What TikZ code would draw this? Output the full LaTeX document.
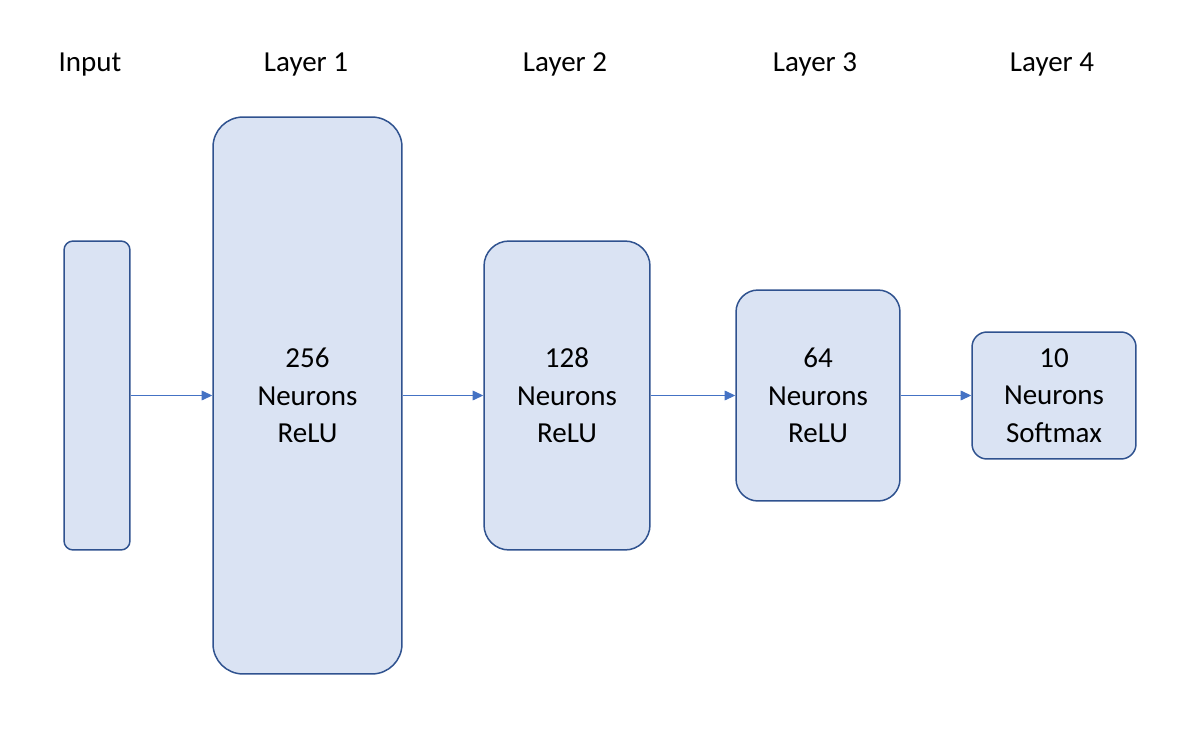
\documentclass[tikz,border=0pt]{standalone}
\usepackage{fontspec}
\setmainfont{Carlito}
\usetikzlibrary{arrows.meta}
\definecolor{layerfill}{HTML}{DAE3F3}
\definecolor{layerline}{HTML}{2F528F}
\definecolor{arrowblue}{HTML}{4472C4}
\begin{document}
\begin{tikzpicture}[x=0.02cm,y=-0.02cm,
  every node/.style={text centered,font=\fontsize{16.5}{21.3}\selectfont},
  layer/.style={draw=layerline,fill=layerfill,line width=0.85pt,align=center,inner sep=0pt},
  flow/.style={draw=arrowblue,line width=0.6pt,-{Triangle[length=6pt,width=5.5pt]}}]

\useasboundingbox (0,0) rectangle (1194,754);

\node [layer,rounded corners=0.18cm,minimum width=1.32cm,minimum height=6.18cm] (in) at (97, 395.5) {};
\node [layer,rounded corners=0.6cm,minimum width=3.78cm,minimum height=11.14cm] (l1) at (307.5, 395.5) {256\\Neurons\\ReLU};
\node [layer,rounded corners=0.5cm,minimum width=3.32cm,minimum height=6.18cm] (l2) at (567, 395.5) {128\\Neurons\\ReLU};
\node [layer,rounded corners=0.44cm,minimum width=3.28cm,minimum height=4.22cm] (l3) at (818, 395.5) {64\\Neurons\\ReLU};
\node [layer,rounded corners=0.3cm,minimum width=3.28cm,minimum height=2.54cm] (l4) at (1054, 395.5) {10\\Neurons\\Softmax};

\node [anchor=base] (tin) at (90, 71) {Input};
\node [anchor=base] (tl1) at (306, 71) {Layer 1};
\node [anchor=base] (tl2) at (565, 71) {Layer 2};
\node [anchor=base] (tl3) at (815, 71) {Layer 3};
\node [anchor=base] (tl4) at (1052, 71) {Layer 4};

\draw [flow] (in.east) -- (in.east -| l1.west);
\draw [flow] (l1.east) -- (l1.east -| l2.west);
\draw [flow] (l2.east) -- (l2.east -| l3.west);
\draw [flow] (l3.east) -- (l3.east -| l4.west);

\end{tikzpicture}
\end{document}
